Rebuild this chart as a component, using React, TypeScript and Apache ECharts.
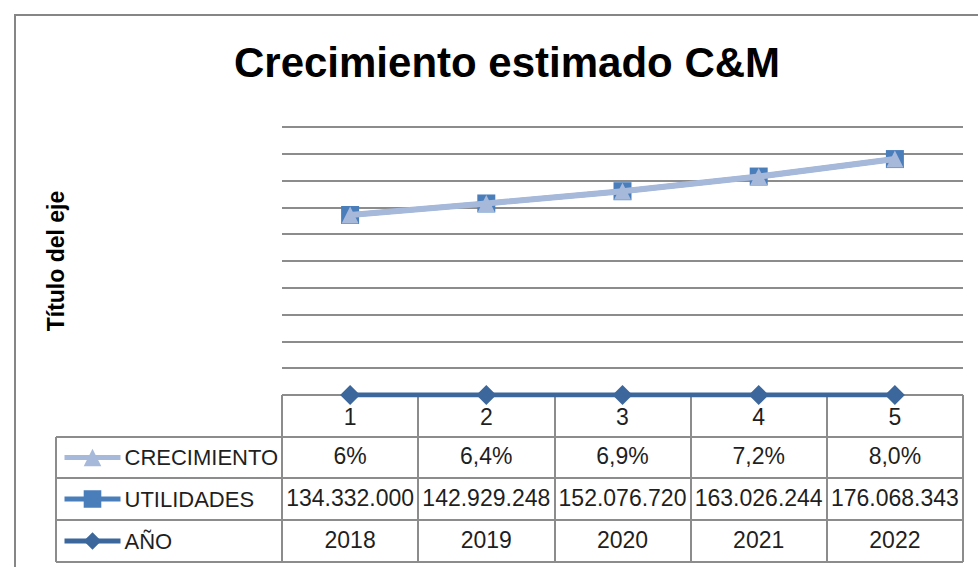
import React, { useEffect, useRef } from "react";
import * as echarts from "echarts";

const categories = ["1", "2", "3", "4", "5"];
const crecimiento = [0.06, 0.064, 0.069, 0.072, 0.08];
const crecimientoLabels = ["6%", "6,4%", "6,9%", "7,2%", "8,0%"];
const utilidades = [134332000, 142929248, 152076720, 163026244, 176068343];
const utilidadesLabels = ["134.332.000", "142.929.248", "152.076.720", "163.026.244", "176.068.343"];
const anios = [2018, 2019, 2020, 2021, 2022];
const anioLabels = ["2018", "2019", "2020", "2021", "2022"];
const seriesNames = ["CRECIMIENTO", "UTILIDADES", "AÑO"];

const W = 978;
const H = 567;
const gridL = 282;
const gridR = 963;
const gridT = 127;
const gridB = 395;
const tableL = 56;
const rowYs = [395, 437, 478, 520, 562];
const colXs = [282, 418, 555, 691, 827, 963];
const FONT = "'Liberation Sans', Arial, sans-serif";
const TXT = "#1f1f1f";
const GRID_C = "#8c8c8c";

export default function App() {
  const ref = useRef<HTMLDivElement>(null);
  useEffect(() => {
    if (!ref.current) return;
    const chart = echarts.init(ref.current, null, { renderer: "svg" });

    const rowAxis = (data: string[], offset: number) => ({
      type: "category",
      data,
      position: "bottom",
      offset,
      boundaryGap: true,
      axisLine: { show: false },
      axisTick: { show: false },
      splitLine: { show: false },
      axisLabel: { interval: 0, margin: 8, fontSize: 23, color: TXT, fontFamily: FONT },
    });

    const graphics: any[] = [];
    graphics.push({
      type: "polyline",
      shape: { points: [[15, H + 5], [15, 15], [W + 5, 15]] },
      style: { stroke: "#868686", lineWidth: 2, fill: null },
    });
    rowYs.forEach((y, i) => {
      graphics.push({
        type: "line",
        shape: { x1: i === 0 ? gridL : tableL, y1: y, x2: gridR, y2: y },
        style: { stroke: GRID_C, lineWidth: 2 },
        z: 1,
      });
    });
    colXs.forEach((x) => {
      graphics.push({
        type: "line",
        shape: { x1: x, y1: rowYs[0], x2: x, y2: rowYs[4] },
        style: { stroke: GRID_C, lineWidth: 2 },
        z: 1,
      });
    });
    graphics.push({
      type: "line",
      shape: { x1: tableL, y1: rowYs[1], x2: tableL, y2: rowYs[4] },
      style: { stroke: GRID_C, lineWidth: 2 },
      z: 1,
    });

    const legendTops = [rowYs[1], rowYs[2], rowYs[3]].map((y, i) => (y + rowYs[i + 2]) / 2 - 11);

    chart.setOption({
      animation: false,
      backgroundColor: "#ffffff",
      title: {
        text: "Crecimiento estimado C&M",
        left: 502,
        textAlign: "center",
        top: 36,
        textStyle: { fontSize: 42, fontWeight: "bold", color: "#000", fontFamily: FONT },
      },
      legend: seriesNames.map((name, i) => ({
        data: [name],
        left: 62,
        top: legendTops[i],
        itemWidth: 56,
        itemHeight: 22,
        itemGap: 0,
        padding: 0,
        lineStyle: { width: 5 },
        textStyle: { fontSize: 22, color: TXT, fontFamily: FONT, lineHeight: 22, padding: [0, 0, 0, -1] },
        selectedMode: false,
      })),
      grid: { left: gridL, right: W - gridR, top: gridT, bottom: H - gridB, containLabel: false },
      xAxis: [
        {
          type: "category",
          data: categories,
          boundaryGap: true,
          axisLine: { show: false },
          axisTick: { show: false },
          axisLabel: { interval: 0, margin: 10, fontSize: 23, color: TXT, fontFamily: FONT },
        },
        rowAxis(crecimientoLabels, 41),
        rowAxis(utilidadesLabels, 83),
        rowAxis(anioLabels, 125),
      ],
      yAxis: {
        type: "value",
        min: 0,
        max: 200000000,
        interval: 20000000,
        axisLine: { show: false },
        axisTick: { show: false },
        axisLabel: { show: false },
        splitLine: { lineStyle: { color: GRID_C, width: 2 } },
        name: "Título del eje",
        nameLocation: "middle",
        nameRotate: 90,
        nameGap: 215,
        nameTextStyle: { fontSize: 23, fontWeight: "bold", color: "#000", fontFamily: FONT },
      },
      series: [
        {
          name: "AÑO",
          type: "line",
          stack: "total",
          data: anios,
          symbol: "diamond",
          symbolSize: [20, 20],
          color: "#3C679C",
          lineStyle: { width: 5, color: "#3C679C" },
          itemStyle: { color: "#3C679C" },
          z: 5,
        },
        {
          name: "UTILIDADES",
          type: "line",
          stack: "total",
          data: utilidades,
          symbol: "rect",
          symbolSize: 18,
          color: "#4A7EBB",
          lineStyle: { width: 5, color: "#4A7EBB" },
          itemStyle: { color: "#4A7EBB" },
          z: 6,
        },
        {
          name: "CRECIMIENTO",
          type: "line",
          stack: "total",
          data: crecimiento,
          symbol: "triangle",
          symbolSize: 17,
          color: "#A7B9DA",
          lineStyle: { width: 6, color: "#A7B9DA" },
          itemStyle: { color: "#A7B9DA" },
          z: 7,
        },
      ],
      graphic: graphics,
    });
    return () => chart.dispose();
  }, []);
  return <div ref={ref} style={{ width: W, height: H, position: "absolute", left: 0, top: 0 }} />;
}
